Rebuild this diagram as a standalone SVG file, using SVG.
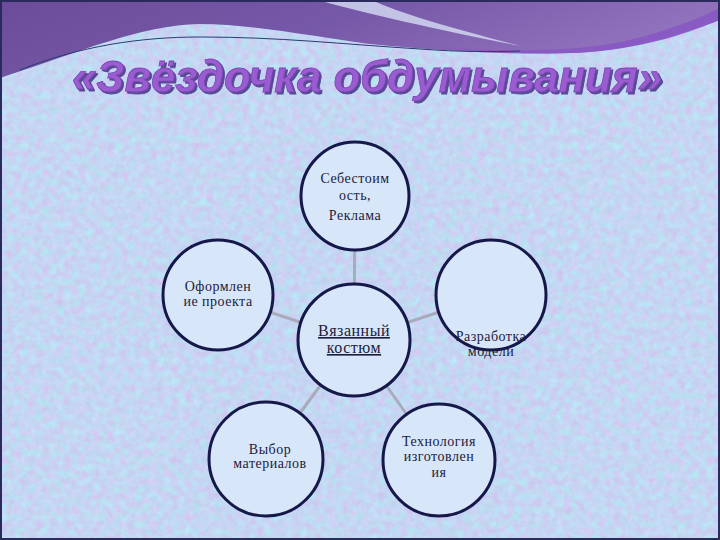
<svg xmlns="http://www.w3.org/2000/svg" width="720" height="540" viewBox="0 0 720 540">
  <defs>
    <filter id="mottle" x="0" y="0" width="720" height="540" filterUnits="userSpaceOnUse" color-interpolation-filters="sRGB">
      <feTurbulence type="fractalNoise" baseFrequency="0.14" numOctaves="3" seed="7" result="n"/>
      <feColorMatrix in="n" type="matrix" values="0.2 0.06 0 0 0.64  -0.2 0.06 0 0 0.91  0 0.06 0 0 0.92  0 0 0 0 1"/>
    </filter>
    <filter id="shadow" x="-5%" y="-20%" width="110%" height="150%">
      <feDropShadow dx="2" dy="2" stdDeviation="0.4" flood-color="#4a3a86" flood-opacity="0.9"/>
    </filter>
    <linearGradient id="topPurple" x1="0" y1="0" x2="1" y2="0.3">
      <stop offset="0" stop-color="#6a4c9a"/>
      <stop offset="0.5" stop-color="#7658a8"/>
      <stop offset="1" stop-color="#9274be"/>
    </linearGradient>
    <style>
      .node circle { fill: #d7e6f8; stroke: #16184a; stroke-width: 3; }
      .lbl { font-family: "Liberation Serif", "DejaVu Serif", serif; font-size: 14px; fill: #1c1c3c; text-anchor: middle; letter-spacing: 0.5px; }
      .conn line { stroke: #a9abbd; stroke-width: 3; }
      .title { font-family: "Liberation Sans", "DejaVu Sans", sans-serif; font-size: 44px; font-weight: bold; font-style: italic; }
    </style>
  </defs>

  <!-- background -->
  <rect x="0" y="0" width="720" height="540" fill="#c4d4f2"/>
  <rect x="0" y="0" width="720" height="540" filter="url(#mottle)"/>

  <!-- top purple wave -->
  <path d="M0,0 H720 V20 C690,30 650,46 590,52 C530,56 450,52 370,44 C310,36 250,24 200,24 C140,25 80,52 0,78 Z" fill="url(#topPurple)"/>
  <path d="M318,0 C360,12 420,26 520,46 C460,30 400,14 372,0 Z" fill="#d6def4" opacity="0.8"/>
  <path d="M400,44 C480,52 570,54 630,40 C670,30 700,18 720,8 V20 C690,32 650,47 590,52 C530,56 470,51 400,44 Z" fill="#8a58c4" opacity="0.9"/>
  <path d="M20,70 C80,46 140,37 200,37 C280,37 340,44 420,49 C460,52 490,52 520,51" fill="none" stroke="#2c3a72" stroke-width="1"/>

  <!-- frame -->
  <rect x="1" y="1" width="718" height="538" fill="none" stroke="#2a2a5c" stroke-width="2"/>

  <!-- title -->
  <text class="title" x="367" y="92" text-anchor="middle" fill="#9b5cd2" stroke="#7a46b4" stroke-width="0.8" textLength="590" lengthAdjust="spacingAndGlyphs" filter="url(#shadow)">«Звёздочка обдумывания»</text>

  <!-- connectors -->
  <g id="connectors" class="conn">
    <line x1="354" y1="340" x2="355" y2="196"/>
    <line x1="354" y1="340" x2="218" y2="295"/>
    <line x1="354" y1="340" x2="491" y2="295"/>
    <line x1="354" y1="340" x2="266" y2="459"/>
    <line x1="354" y1="340" x2="439" y2="460"/>
  </g>

  <!-- nodes -->
  <g id="node-top" class="node">
    <circle cx="355" cy="196" r="54"/>
    <text class="lbl" x="355" y="183">Себестоим</text>
    <text class="lbl" x="355" y="200">ость,</text>
    <text class="lbl" x="355" y="220">Реклама</text>
  </g>
  <g id="node-left" class="node">
    <circle cx="218" cy="295" r="55"/>
    <text class="lbl" x="218" y="291">Оформлен</text>
    <text class="lbl" x="218" y="306">ие проекта</text>
  </g>
  <g id="node-right" class="node">
    <circle cx="491" cy="295" r="55"/>
    <text class="lbl" x="491" y="341">Разработка</text>
    <text class="lbl" x="491" y="356">модели</text>
  </g>
  <g id="node-center" class="node">
    <circle cx="354" cy="340" r="56"/>
    <text class="lbl" x="354" y="336" style="font-size:16px" text-decoration="underline">Вязанный</text>
    <text class="lbl" x="354" y="353" style="font-size:16px" text-decoration="underline">костюм</text>
  </g>
  <g id="node-bottom-left" class="node">
    <circle cx="266" cy="459" r="57"/>
    <text class="lbl" x="270" y="454">Выбор</text>
    <text class="lbl" x="270" y="468">материалов</text>
  </g>
  <g id="node-bottom-right" class="node">
    <circle cx="439" cy="460" r="56"/>
    <text class="lbl" x="439" y="446">Технология</text>
    <text class="lbl" x="439" y="461">изготовлен</text>
    <text class="lbl" x="439" y="477">ия</text>
  </g>
</svg>
